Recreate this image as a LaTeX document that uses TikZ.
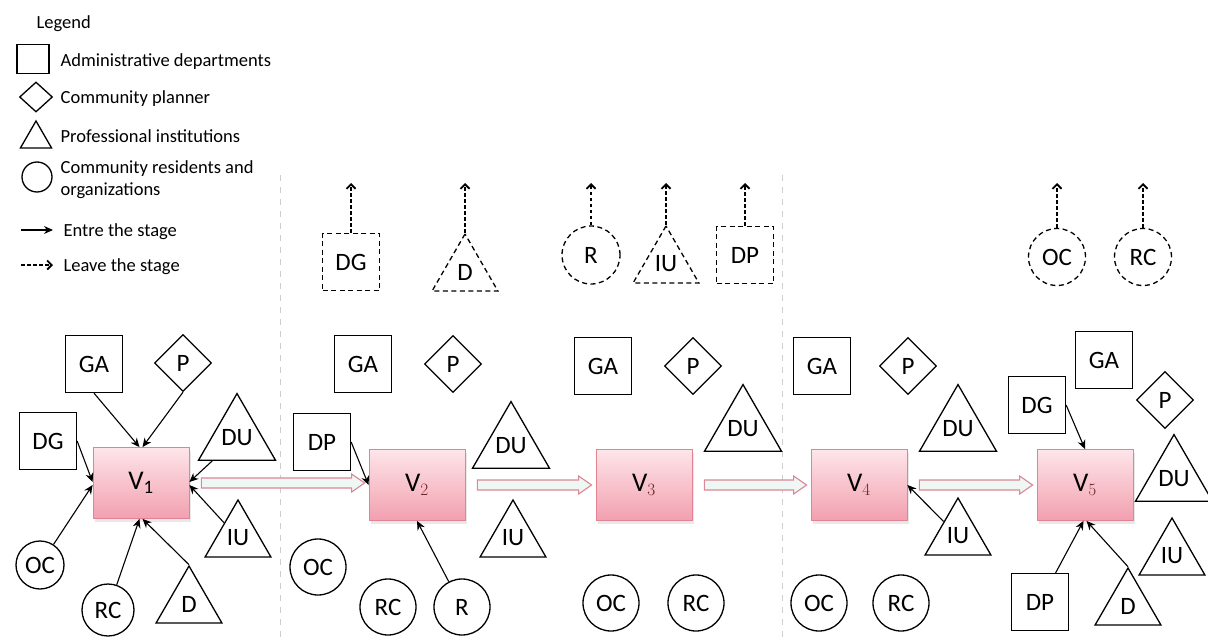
\documentclass[tikz,border=0pt]{standalone}
\usepackage{fontspec}
\setmainfont{Carlito}
\usetikzlibrary{shapes.geometric,arrows.meta,calc,shadows}

\definecolor{vtop}{RGB}{253,229,233}
\definecolor{vbot}{RGB}{242,160,176}
\definecolor{vedge}{RGB}{226,130,146}
\definecolor{subred}{RGB}{110,35,35}
\definecolor{arrfill}{RGB}{238,247,244}
\definecolor{arredge}{RGB}{220,135,150}
\definecolor{sepgray}{RGB}{205,205,205}

% hollow stage arrow from the east side of one version box to the west side of the next
\newcommand\stagearrow[2]{%
  \filldraw[hollow] let \p1=(#1.east), \p2=(#2.west) in
    (\x1+12pt,\y1-5pt) -- (\x2-17pt,\y1-5pt) -- (\x2-17pt,\y1-9pt) -- (\x2-4pt,\y1)
    -- (\x2-17pt,\y1+9pt) -- (\x2-17pt,\y1+5pt) -- (\x1+12pt,\y1+5pt) -- cycle;}

\begin{document}
\begin{tikzpicture}[x=1pt,y=-1pt,
  every node/.style={font=\fontsize{25}{27}\selectfont, inner sep=0pt, line width=1.3pt},
  sq/.style={draw, rectangle, minimum width=57pt, minimum height=57pt},
  dia/.style={draw, diamond, minimum width=57pt, minimum height=57pt},
  tri/.style={draw, regular polygon, regular polygon sides=3, minimum size=76pt},
  circ/.style={draw, circle, minimum size=56pt},
  gone/.style={dash pattern=on 5pt off 3.5pt},
  lgtext/.style={anchor=base west, font=\fontsize{18.5}{20}\selectfont},
  vbox/.style={draw=vedge, line width=0.8pt, rectangle, minimum width=96pt, minimum height=71pt,
    top color=vtop, bottom color=vbot, font=\fontsize{27}{28}\selectfont,
    drop shadow={opacity=0.18, shadow xshift=2pt, shadow yshift=-3pt}},
  enter/.style={line width=1.1pt, -{Stealth[length=9pt,width=8pt]}},
  leave/.style={line width=1.1pt, dash pattern=on 3.5pt off 2.5pt,
    -{Straight Barb[length=4.5pt,width=9pt,line width=1.8pt]}},
  hollow/.style={draw=arredge, fill=arrfill, line width=1.1pt, line join=miter},
  sep/.style={draw=sepgray, line width=0.9pt, dash pattern=on 6pt off 6pt}
]
\fill[white] (0,0) rectangle (1208,637);
\path[use as bounding box] (0,0) rectangle (1208,637);

% stage separators
\draw[sep] (280,175) -- (280,637);
\draw[sep] (782,175) -- (782,637);

% ---------------- legend ----------------
\node[lgtext] (lgtitle) at (36,28) {Legend};
\node[sq, minimum width=32pt, minimum height=29pt] (lsq) at (33,59) {};
\node[lgtext] (lsqt) at (60,66) {Administrative departments};
\node[dia, minimum width=33pt, minimum height=30pt] (ldia) at (36,97) {};
\node[lgtext] (ldiat) at (60,103) {Community planner};
\node[tri, minimum size=36pt] (ltri) at (36,139) {};
\node[lgtext] (ltrit) at (60,142) {Professional institutions};
\node[circ, minimum size=30pt] (lcirc) at (37,177) {};
\node[lgtext] (lcirct) at (60,173) {Community residents and};
\node[lgtext] (lcirct2) at (60,195) {organizations};
\coordinate (lea) at (21,230);
\coordinate (leb) at (53,230);
\draw[enter] (lea) -- (leb);
\node[lgtext] (lentt) at (63,236) {Entre the stage};
\coordinate (lla) at (21,265);
\coordinate (llb) at (53,265);
\draw[leave] (lla) -- (llb);
\node[lgtext] (lleat) at (63,271) {Leave the stage};

% ---------------- version boxes ----------------
\node[vbox] (V1) at (141,483) {V\textsubscript{1}};
\node[vbox] (V2) at (417,485) {V\textcolor{subred}{$_{2}$}};
\node[vbox] (V3) at (644,485) {V\textcolor{subred}{$_{3}$}};
\node[vbox] (V4) at (859,485) {V\textcolor{subred}{$_{4}$}};
\node[vbox] (V5) at (1085,485) {V\textcolor{subred}{$_{5}$}};

\stagearrow{V1}{V2}
\stagearrow{V2}{V3}
\stagearrow{V3}{V4}
\stagearrow{V4}{V5}

% ---------------- stage 1 ----------------
\node[sq] (GA1) at (94,364) {GA};
\node[dia] (P1) at (183,363) {P};
\node[sq] (DG1) at (48,441) {DG};
\node[tri] (DU1) at (237,438) {DU};
\node[tri] (IU1) at (238,538) {IU};
\node[circ, minimum size=48pt] (OC1) at (40,565) {OC};
\node[circ, minimum size=52pt] (RC1) at (108,610) {RC};
\node[tri] (D1) at (189,604) {D};

\draw[enter] (GA1.south) -- ([xshift=-1.5pt]V1.north);
\draw[enter] (P1.south) -- ([xshift=1.5pt]V1.north);
\draw[enter] (DG1.east) -- ([yshift=1pt]V1.west);
\draw[enter] (OC1) -- ([yshift=-2pt]V1.west);
\draw[enter] (DU1) -- ([yshift=1pt]V1.east);
\draw[enter] (IU1) -- ([yshift=-2pt]V1.east);
\draw[enter] (RC1) -- ([xshift=-1.5pt]V1.south);
\draw[enter] (D1.corner 1) -- ([xshift=1.5pt]V1.south);

% ---------------- stage 2 ----------------
\node[sq] (GA2) at (363,364) {GA};
\node[dia] (P2) at (453,364) {P};
\node[sq] (DP2) at (322,442) {DP};
\node[tri] (DU2) at (511,446) {DU};
\node[tri] (IU2) at (513,538) {IU};
\node[circ] (OC2) at (318,567) {OC};
\node[circ] (RC2) at (388,607) {RC};
\node[circ] (R2) at (462,607) {R};

\draw[enter] (DP2.east) -- (V2.west);
\draw[enter] (R2) -- (V2.south);

% ---------------- stage 3 ----------------
\node[sq] (GA3) at (603,366) {GA};
\node[dia] (P3) at (693,366) {P};
\node[tri] (DU3) at (743,429) {DU};
\node[circ] (OC3) at (611,603) {OC};
\node[circ] (RC3) at (696,603) {RC};

% ---------------- stage 4 ----------------
\node[sq] (GA4) at (822,366) {GA};
\node[dia] (P4) at (908,366) {P};
\node[tri] (DU4) at (958,429) {DU};
\node[tri] (IU4) at (958,536) {IU};
\node[circ] (OC4) at (819,603) {OC};
\node[circ] (RC4) at (901,603) {RC};

\draw[enter] (IU4) -- (V4.east);

% ---------------- stage 5 ----------------
\node[sq] (GA5) at (1104,360) {GA};
\node[sq] (DG5) at (1037,405) {DG};
\node[dia] (P5) at (1165,400) {P};
\node[tri] (DU5) at (1174,479) {DU};
\node[tri] (IU5) at (1172,556) {IU};
\node[sq] (DP5) at (1040,602) {DP};
\node[tri] (D5) at (1128,606) {D};

\draw[enter] (DG5.east) -- (V5.north);
\draw[enter] (DP5) -- ([xshift=-1.5pt]V5.south);
\draw[enter] (D5.corner 1) -- ([xshift=1.5pt]V5.south);

% ---------------- actors leaving the stages ----------------
\coordinate (exit) at (0,183);
\node[sq, gone] (xDG) at (351,262) {DG};
\node[tri, gone] (xD) at (465,272) {D};
\node[circ, gone, minimum size=58pt] (xR) at (591,255) {R};
\node[tri, gone] (xIU) at (666,264) {IU};
\node[sq, gone] (xDP) at (745,255) {DP};
\node[circ, gone, minimum size=57pt] (xOC) at (1057,257) {OC};
\node[circ, gone, minimum size=57pt] (xRC) at (1143,257) {RC};

\draw[leave] (xDG.north) -- (xDG.north |- exit);
\draw[leave] (xD.corner 1) -- (xD.corner 1 |- exit);
\draw[leave] (xR.north) -- (xR.north |- exit);
\draw[leave] (xIU.corner 1) -- (xIU.corner 1 |- exit);
\draw[leave] (xDP.north) -- (xDP.north |- exit);
\draw[leave] (xOC.north) -- (xOC.north |- exit);
\draw[leave] (xRC.north) -- (xRC.north |- exit);
\end{tikzpicture}
\end{document}
